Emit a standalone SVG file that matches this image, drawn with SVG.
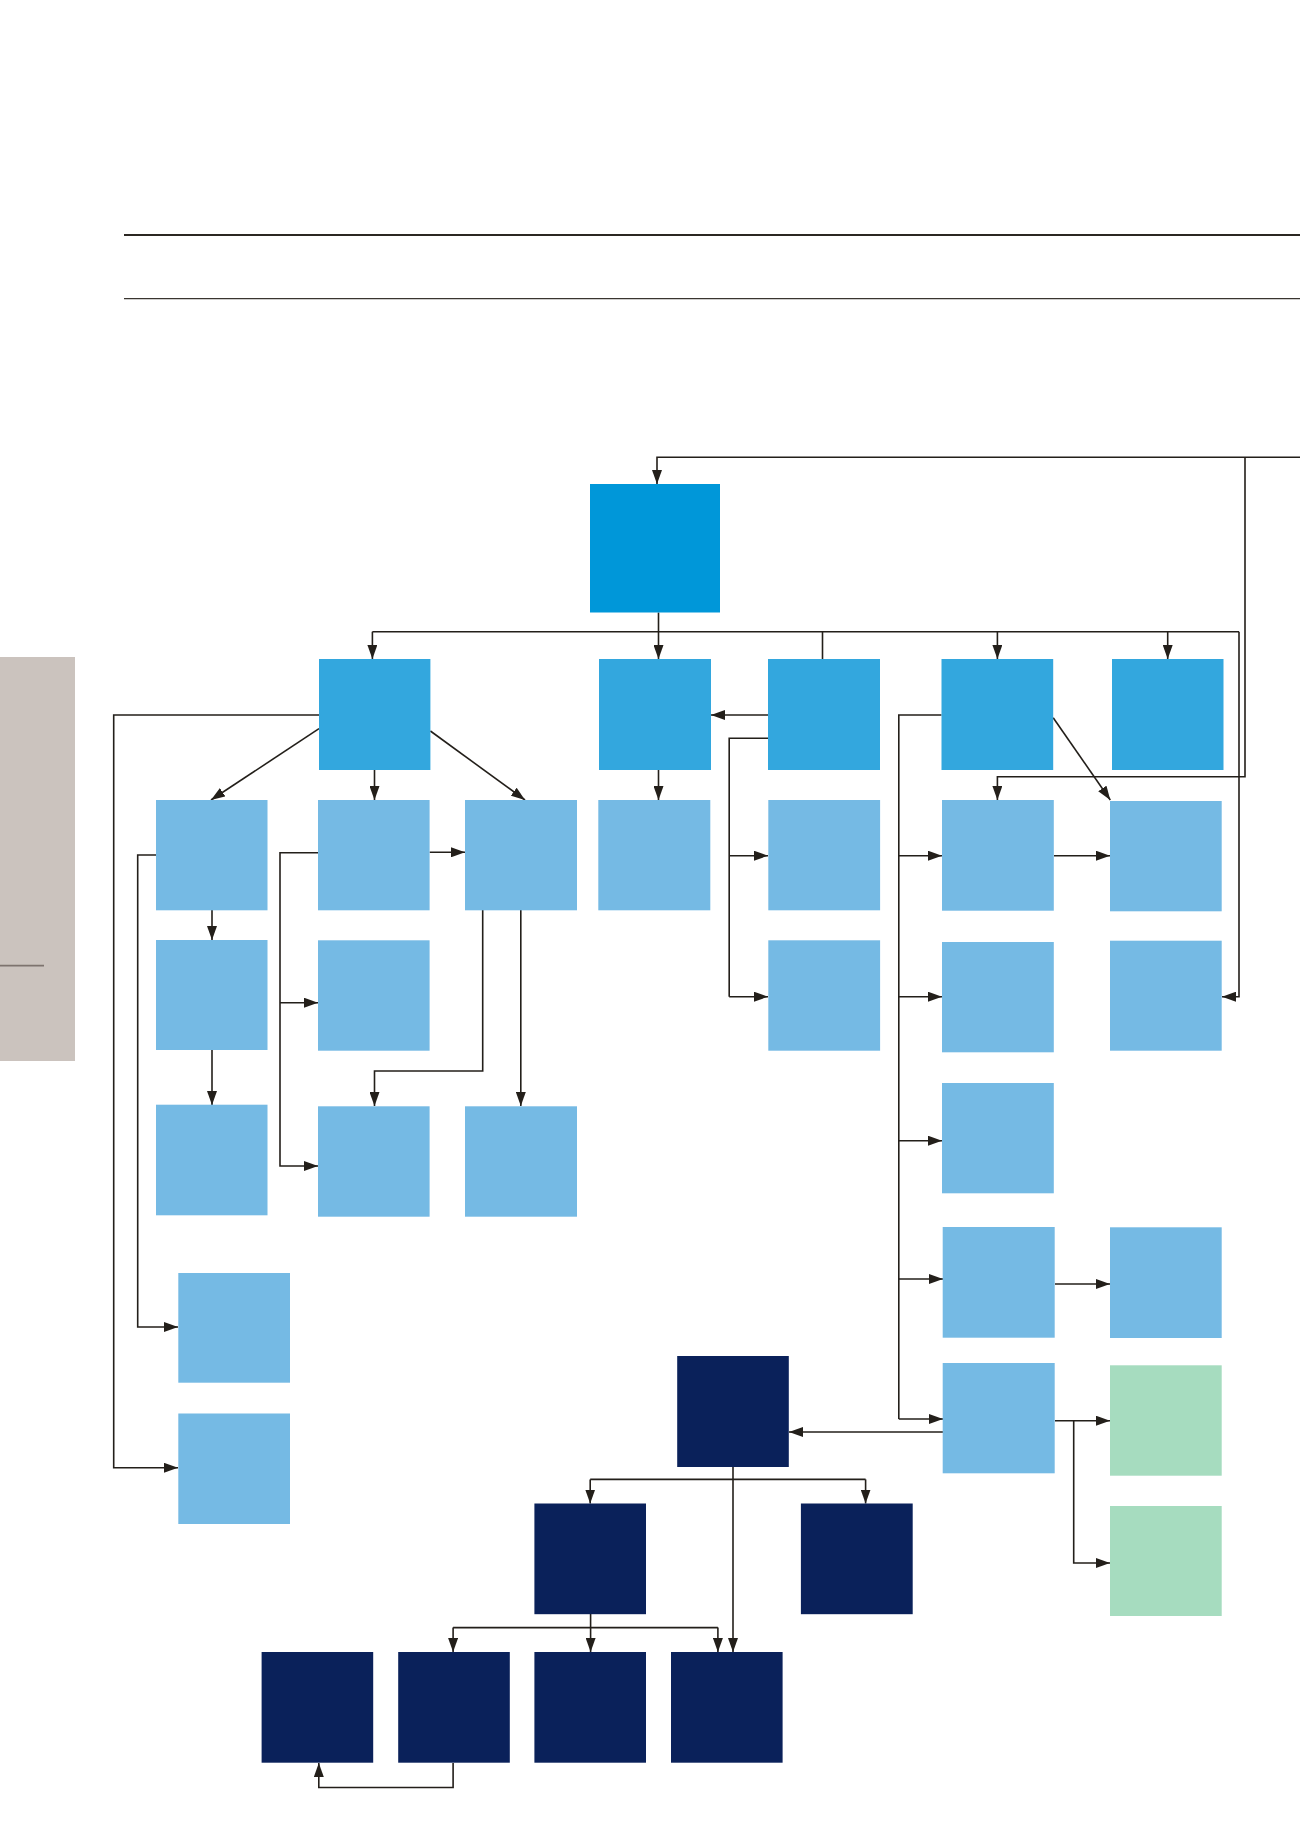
<svg xmlns="http://www.w3.org/2000/svg" width="1300" height="1839" viewBox="0 0 1300 1839">
<style>
.root{fill:#0097d9}
.l1{fill:#33a7de}
.l2{fill:#75bae4}
.dk{fill:#0a215a}
.gr{fill:#a6dcbf}
.c{fill:none;stroke:#231f1a;stroke-width:1.6}
.ca{fill:none;stroke:#231f1a;stroke-width:1.6;marker-end:url(#ah)}
</style>
<defs>
<marker id="ah" markerUnits="userSpaceOnUse" markerWidth="14" markerHeight="10" refX="14" refY="5" orient="auto">
<path d="M0,0 L14,5 L0,10 z" fill="#231f1a"/>
</marker>
</defs>
<rect width="1300" height="1839" fill="#ffffff"/>
<g id="decor">
<line x1="124" y1="235" x2="1300" y2="235" stroke="#2b2722" stroke-width="2.2"/>
<line x1="124" y1="298.7" x2="1300" y2="298.7" stroke="#3a3530" stroke-width="1.2"/>
<rect x="0" y="657" width="75" height="404" fill="#cbc3be"/>
<line x1="0" y1="965.7" x2="44" y2="965.7" stroke="#7d736e" stroke-width="1.8"/>
</g>
<g id="connectors">
<!-- top feedback into root and E1 -->
<path class="ca" d="M1300,457.3 H657 V484"/>
<path class="ca" d="M1245,457.3 V776.7 H997.4 V800"/>
<!-- root bus -->
<path class="c" d="M658.5,612.5 V631.7"/>
<path class="ca" d="M372.4,631.7 V659"/>
<path class="c" d="M372.4,631.7 H1239"/>
<path class="ca" d="M658.5,631.7 V659"/>
<path class="c" d="M822.5,631.7 V659"/>
<path class="ca" d="M997.4,631.7 V659"/>
<path class="ca" d="M1167.7,631.7 V659"/>
<path class="ca" d="M1239,631.7 V996.7 H1222"/>
<!-- A -->
<path class="ca" d="M319,728.7 L211,800"/>
<path class="ca" d="M374.5,770 V800"/>
<path class="ca" d="M430.4,731 L525,800"/>
<path class="ca" d="M319,715 H113.7 V1467.8 H178"/>
<path class="ca" d="M156,855 H137.7 V1327 H178"/>
<path class="ca" d="M212,910 V940"/>
<path class="ca" d="M212,1050 V1105"/>
<path class="ca" d="M318,852.7 H280 V1166 H318"/>
<path class="ca" d="M280,1002.7 H318"/>
<path class="ca" d="M429.6,852.3 H465"/>
<path class="ca" d="M482.7,910 V1071 H374.5 V1106"/>
<path class="ca" d="M520.8,910 V1106"/>
<!-- B, D -->
<path class="ca" d="M658.5,770 V800"/>
<path class="ca" d="M768,715 H711"/>
<path class="c" d="M768,738.3 H729.2 V996.7"/>
<path class="ca" d="M729.2,855.7 H768"/>
<path class="ca" d="M729.2,996.7 H768"/>
<!-- E -->
<path class="c" d="M941.5,715 H898.8 V1419"/>
<path class="ca" d="M898.8,855.7 H942"/>
<path class="ca" d="M898.8,996.7 H942"/>
<path class="ca" d="M898.8,1140.7 H942"/>
<path class="ca" d="M898.8,1279 H943"/>
<path class="ca" d="M898.8,1419 H943"/>
<path class="ca" d="M1053.2,717.7 L1110.3,800"/>
<path class="ca" d="M1054,855.7 H1110"/>
<path class="ca" d="M1055,1284 H1110"/>
<path class="ca" d="M1055,1420.7 H1110"/>
<path class="ca" d="M1073.7,1420.7 V1563 H1110"/>
<path class="ca" d="M943,1432 H789"/>
<!-- dark tree -->
<path class="ca" d="M733,1467 V1652"/>
<path class="c" d="M590.2,1479.4 H865.6"/>
<path class="ca" d="M590.2,1479.4 V1503.5"/>
<path class="ca" d="M865.6,1479.4 V1503.5"/>
<path class="c" d="M590.6,1614 V1627.6"/>
<path class="c" d="M453.1,1627.6 H717.9"/>
<path class="ca" d="M590.6,1627.6 V1652"/>
<path class="ca" d="M453.1,1627.6 V1652"/>
<path class="ca" d="M717.9,1627.6 V1652"/>
<path class="ca" d="M453.1,1763 V1787.5 H318.8 V1763"/>
</g>
<g id="root"><rect class="root" x="590" y="484" width="130" height="128.5"/></g>
<g id="nA"><rect class="l1" x="319" y="659" width="111.4" height="111"/></g>
<g id="nB"><rect class="l1" x="599" y="659" width="112" height="111"/></g>
<g id="nD"><rect class="l1" x="768" y="659" width="112" height="111"/></g>
<g id="nE"><rect class="l1" x="941.5" y="659" width="111.7" height="111"/></g>
<g id="nF"><rect class="l1" x="1112" y="659" width="111.5" height="111"/></g>
<g id="nC1"><rect class="l2" x="156" y="800" width="111.5" height="110.3"/></g>
<g id="nC2"><rect class="l2" x="318" y="800" width="111.6" height="110.3"/></g>
<g id="nC3"><rect class="l2" x="465" y="800" width="112" height="110.3"/></g>
<g id="nC4"><rect class="l2" x="598.3" y="800" width="112" height="110.3"/></g>
<g id="nD1"><rect class="l2" x="768.3" y="800" width="111.8" height="110.3"/></g>
<g id="nE1"><rect class="l2" x="942" y="800" width="111.8" height="110.7"/></g>
<g id="nF1"><rect class="l2" x="1110" y="801" width="111.7" height="110.3"/></g>
<g id="nC1b"><rect class="l2" x="156" y="940" width="111.5" height="110"/></g>
<g id="nC2b"><rect class="l2" x="318" y="940.3" width="111.6" height="110.4"/></g>
<g id="nD2"><rect class="l2" x="768.3" y="940.3" width="111.8" height="110.4"/></g>
<g id="nE2"><rect class="l2" x="942" y="942" width="111.8" height="110.3"/></g>
<g id="nF2"><rect class="l2" x="1110" y="940.7" width="111.7" height="110"/></g>
<g id="nC1c"><rect class="l2" x="156" y="1104.7" width="111.5" height="110.6"/></g>
<g id="nC2c"><rect class="l2" x="318" y="1106.3" width="111.6" height="110.4"/></g>
<g id="nC3c"><rect class="l2" x="465" y="1106.3" width="112" height="110.4"/></g>
<g id="nE3"><rect class="l2" x="942" y="1083" width="111.8" height="110.3"/></g>
<g id="nL1"><rect class="l2" x="178.3" y="1273" width="111.7" height="109.7"/></g>
<g id="nL2"><rect class="l2" x="178.3" y="1413.5" width="111.7" height="110.5"/></g>
<g id="nE4"><rect class="l2" x="942.7" y="1227" width="112" height="110.7"/></g>
<g id="nF3"><rect class="l2" x="1110" y="1227.3" width="111.7" height="110.7"/></g>
<g id="nE5"><rect class="l2" x="942.7" y="1363" width="112" height="110.3"/></g>
<g id="nG1"><rect class="gr" x="1110" y="1365.3" width="111.7" height="110.4"/></g>
<g id="nG2"><rect class="gr" x="1110" y="1506" width="111.7" height="110"/></g>
<g id="nH1"><rect class="dk" x="677.2" y="1356" width="111.6" height="111"/></g>
<g id="nH2"><rect class="dk" x="534.4" y="1503.5" width="111.6" height="110.7"/></g>
<g id="nH3"><rect class="dk" x="800.9" y="1503.5" width="111.8" height="110.7"/></g>
<g id="nH4"><rect class="dk" x="261.6" y="1652" width="111.6" height="110.7"/></g>
<g id="nH5"><rect class="dk" x="398.2" y="1652" width="111.6" height="110.7"/></g>
<g id="nH6"><rect class="dk" x="534.4" y="1652" width="111.6" height="110.7"/></g>
<g id="nH7"><rect class="dk" x="671" y="1652" width="111.6" height="110.7"/></g>
</svg>
